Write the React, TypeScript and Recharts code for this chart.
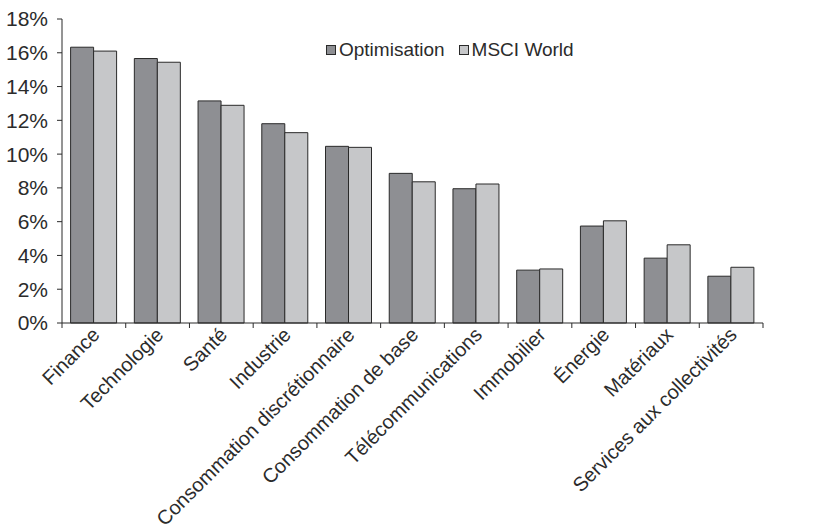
import React from "react";
import { BarChart, Bar, XAxis, YAxis, Legend } from "recharts";

// Sector weights (%) of the optimised portfolio vs. the MSCI World index
const categories = [
  "Finance",
  "Technologie",
  "Santé",
  "Industrie",
  "Consommation discrétionnaire",
  "Consommation de base",
  "Télécommunications",
  "Immobilier",
  "Énergie",
  "Matériaux",
  "Services aux collectivités",
];
const optimisation = [16.33, 15.66, 13.15, 11.8, 10.46, 8.86, 7.95, 3.13, 5.74, 3.84, 2.77];
const msciWorld = [16.1, 15.44, 12.89, 11.27, 10.4, 8.36, 8.23, 3.2, 6.05, 4.63, 3.3];
const yTicks = [0, 2, 4, 6, 8, 10, 12, 14, 16, 18];
const seriesNames = ["Optimisation", "MSCI World"];

const data = categories.map((name, i) => ({
  name,
  optimisation: optimisation[i],
  msci: msciWorld[i],
}));

const FONT = "'Liberation Sans', Arial, sans-serif";
const INK = "#2b2b2b";
const DARK = "#8e8f93";
const LIGHT = "#c6c7c9";
const EDGE = "#2a2a2a";

const pct = (v: number) => `${v}%`;

// Category tick: boundary tick marks plus a label rotated -45°
function CategoryTick(props: any) {
  const { x, y, payload, index } = props;
  const half = payload && typeof payload.offset === "number" && payload.offset > 0 ? payload.offset : 31.85;
  const last = index === categories.length - 1;
  const tx = x + 7;
  const ty = y + 8;
  return (
    <g>
      <line x1={x - half} x2={x - half} y1={y - 5} y2={y} stroke={INK} strokeWidth={1} />
      {last && <line x1={x + half} x2={x + half} y1={y - 5} y2={y} stroke={INK} strokeWidth={1} />}
      <text
        x={tx}
        y={ty}
        transform={`rotate(-45, ${tx}, ${ty})`}
        textAnchor="end"
        fontSize={20}
        fontFamily={FONT}
        fill={INK}
      >
        {payload.value}
      </text>
    </g>
  );
}

function LegendContent() {
  const swatches = [DARK, LIGHT];
  return (
    <div style={{ display: "flex", alignItems: "center", fontFamily: FONT, fontSize: 19, color: INK, whiteSpace: "nowrap" }}>
      {seriesNames.map((n, i) => (
        <div key={n} style={{ display: "flex", alignItems: "center", marginRight: i === 0 ? 14 : 0 }}>
          <span
            style={{
              display: "inline-block",
              width: 8,
              height: 8,
              background: swatches[i],
              border: `1px solid ${EDGE}`,
              marginRight: 3,
            }}
          />
          <span>{n}</span>
        </div>
      ))}
    </div>
  );
}

export default function App() {
  return (
    <div style={{ position: "absolute", left: 0, top: 0, background: "#fff" }}>
      <BarChart
        width={823}
        height={530}
        data={data}
        margin={{ top: 19, right: 0, bottom: 0, left: 0 }}
        barCategoryGap="13.5%"
        barGap={0}
      >
        <XAxis
          dataKey="name"
          height={207}
          interval={0}
          tickSize={5}
          tickMargin={0}
          tickLine={false}
          axisLine={{ stroke: INK, strokeWidth: 1 }}
          tick={<CategoryTick />}
        />
        <YAxis
          yAxisId="left"
          width={62}
          domain={[0, 18]}
          ticks={yTicks}
          tickFormatter={pct}
          tickSize={5}
          tickMargin={9}
          interval={0}
          axisLine={{ stroke: INK, strokeWidth: 1 }}
          tickLine={{ stroke: INK, strokeWidth: 1 }}
          tick={{ fontSize: 21, fontFamily: FONT, fill: INK }}
        />
        <YAxis
          yAxisId="right"
          orientation="right"
          width={60}
          domain={[0, 18]}
          ticks={yTicks}
          tickFormatter={pct}
          tickSize={0}
          tickMargin={13}
          interval={0}
          axisLine={false}
          tickLine={false}
          tick={{ fontSize: 21, fontFamily: FONT, fill: INK }}
        />
        <Legend
          layout="horizontal"
          verticalAlign="middle"
          align="center"
          content={<LegendContent />}
          wrapperStyle={{ top: 39, left: 326, width: 280, height: 24 }}
        />
        <Bar
          yAxisId="left"
          dataKey="optimisation"
          name={seriesNames[0]}
          fill={DARK}
          stroke={EDGE}
          strokeWidth={1}
          isAnimationActive={false}
        />
        <Bar
          yAxisId="left"
          dataKey="msci"
          name={seriesNames[1]}
          fill={LIGHT}
          stroke={EDGE}
          strokeWidth={1}
          isAnimationActive={false}
        />
      </BarChart>
    </div>
  );
}
